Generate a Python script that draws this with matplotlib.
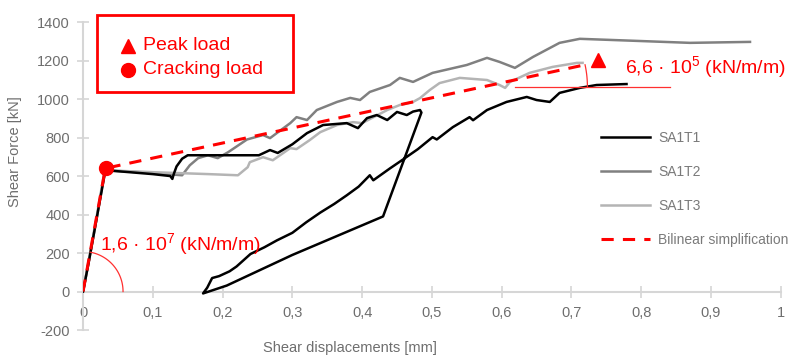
import numpy as np
import matplotlib
matplotlib.use("Agg")
import matplotlib.pyplot as plt
from matplotlib.patches import Rectangle

plt.rcParams["font.family"] = ["Liberation Sans", "DejaVu Sans"]
plt.rcParams["mathtext.fontset"] = "custom"
plt.rcParams["mathtext.rm"] = "Liberation Sans"
plt.rcParams["axes.unicode_minus"] = False

# test curves, shear displacement [mm] vs shear force [kN]
t1_x = [0, 0.008, 0.016, 0.024, 0.032, 0.06, 0.10, 0.125, 0.128, 0.130, 0.134, 0.142, 0.150,
        0.20, 0.252, 0.268, 0.279, 0.30, 0.321, 0.344, 0.378, 0.394, 0.407, 0.421, 0.436,
        0.45, 0.464, 0.473, 0.483, 0.485, 0.430, 0.300, 0.206, 0.172, 0.178, 0.185, 0.195,
        0.21, 0.22, 0.24, 0.26, 0.278, 0.30, 0.32, 0.34, 0.36, 0.378, 0.395, 0.411, 0.416,
        0.44, 0.457, 0.48, 0.501, 0.507, 0.53, 0.554, 0.559, 0.579, 0.607, 0.636, 0.650,
        0.669, 0.683, 0.712, 0.736, 0.779]
t1_y = [0, 150, 310, 470, 630, 622, 610, 600, 585, 610, 650, 690, 708,
        708, 708, 735, 720, 765, 823, 865, 875, 849, 901, 917, 891,
        933, 917, 935, 943, 930, 390, 190, 31, -10, 20, 70, 80,
        105, 130, 195, 230, 266, 305, 360, 410, 455, 500, 545, 604, 578,
        640, 682, 740, 802, 790, 854, 906, 890, 943, 985, 1011, 995,
        985, 1032, 1058, 1073, 1078]

t2_x = [0, 0.01, 0.02, 0.03, 0.033, 0.08, 0.12, 0.142, 0.153, 0.165, 0.179, 0.193, 0.208,
        0.235, 0.258, 0.268, 0.297, 0.306, 0.321, 0.335, 0.364, 0.383, 0.397, 0.411, 0.44,
        0.454, 0.473, 0.501, 0.550, 0.579, 0.597, 0.619, 0.645, 0.683, 0.712, 0.788, 0.870,
        0.956]
t2_y = [0, 190, 390, 600, 630, 620, 610, 604, 656, 693, 708, 693, 724,
        790, 813, 797, 875, 906, 891, 943, 985, 1006, 995, 1037, 1073,
        1110, 1089, 1136, 1177, 1214, 1193, 1162, 1219, 1292, 1313, 1303, 1292,
        1297]

t3_x = [0, 0.01, 0.02, 0.03, 0.033, 0.1, 0.18, 0.222, 0.236, 0.239, 0.258, 0.272, 0.297,
        0.306, 0.325, 0.34, 0.364, 0.387, 0.40, 0.436, 0.454, 0.473, 0.483, 0.497, 0.511,
        0.540, 0.579, 0.597, 0.605, 0.612, 0.640, 0.673, 0.708, 0.716]
t3_y = [0, 200, 400, 610, 630, 620, 610, 604, 646, 672, 698, 682, 745,
        740, 787, 828, 865, 880, 875, 943, 969, 985, 1005, 1047, 1083,
        1110, 1099, 1073, 1058, 1089, 1136, 1167, 1188, 1188]

bil_x = [0, 0.032, 0.722]
bil_y = [0, 640, 1180]
crack = (0.033, 640)
peak = (0.738, 1203)
k1_label = "1,6 · 10$^{7}$ (kN/m/m)"
k2_label = "6,6 · 10$^{5}$ (kN/m/m)"

fig = plt.figure(figsize=(7.91, 3.56), dpi=100)
ax = fig.add_axes([0.105, 0.073, 0.882, 0.865])

ax.plot(t2_x, t2_y, color="#808080", lw=1.8, label="SA1T2", zorder=2)
ax.plot(t3_x, t3_y, color="#b4b4b4", lw=1.8, label="SA1T3", zorder=2)
ax.plot(t1_x, t1_y, color="black", lw=1.8, label="SA1T1", zorder=3)
ax.plot(bil_x, bil_y, color="red", lw=2.2, ls=(0, (4, 3)), label="Bilinear simplification", zorder=4)
ax.plot(*crack, marker="o", color="red", ms=10, zorder=5)
ax.plot(*peak, marker="^", color="red", ms=10, zorder=5)

ax.set_xlim(0, 1)
ax.set_ylim(-200, 1400)
ax.set_xticks(np.arange(0, 1.01, 0.1))
ax.set_xticklabels(["0", "0,1", "0,2", "0,3", "0,4", "0,5", "0,6", "0,7", "0,8", "0,9", "1"])
ax.set_yticks(range(-200, 1401, 200))
for s in ["top", "right"]:
    ax.spines[s].set_visible(False)
ax.spines["bottom"].set_position(("data", 0))
for s in ["left", "bottom"]:
    ax.spines[s].set_color("#d6d6d6")
    ax.spines[s].set_linewidth(1.5)
ax.tick_params(axis="both", direction="inout", length=9, width=1.2, color="#d6d6d6",
               labelcolor="#6e6e6e", labelsize=10.5)
ax.tick_params(axis="x", pad=6)
ax.tick_params(axis="y", pad=5)

ax.set_xlabel("Shear displacements [mm]", fontsize=10.5, color="#6e6e6e")
ax.set_ylabel("Shear Force [kN]", fontsize=10.5, color="#6e6e6e")
ax.xaxis.set_label_coords(0.383, -0.035)
ax.yaxis.set_label_coords(-0.087, 0.58)

# stiffness annotations (arcs drawn as polylines, radius in pixels)
px_x = 698.0          # pixels per mm
px_y = 38.5 / 200.0   # pixels per kN


def arc(xc, yc, r, a0, a1):
    t = np.radians(np.linspace(a0, a1, 40))
    ax.plot(xc + r * np.cos(t) / px_x, yc + r * np.sin(t) / px_y, color="#ff3030", lw=0.9, zorder=4)


ax.text(0.024, 245, k1_label, color="red", fontsize=14, va="center", ha="left")
ang1 = np.degrees(np.arctan(bil_y[1] / bil_x[1] * px_y / px_x))
arc(0, 0, 40, 0, ang1)

slope = (bil_y[2] - bil_y[1]) / (bil_x[2] - bil_x[1])
y_ref = 1063
x_int = bil_x[1] + (y_ref - bil_y[1]) / slope
ax.plot([0.619, 0.841], [y_ref, y_ref], color="#ff3030", lw=0.9, zorder=4)
ang2 = np.degrees(np.arctan(slope * px_y / px_x))
arc(x_int, y_ref, 105, 0, ang2)
ax.text(0.777, 1162, k2_label, color="red", fontsize=14, va="center", ha="left")

leg = ax.legend(handles=[ax.lines[2], ax.lines[0], ax.lines[1], ax.lines[3]],
                loc="upper left", bbox_to_anchor=(0.733, 0.67), frameon=False,
                fontsize=10, labelcolor="#7a7a7a", handlelength=3.5, handletextpad=0.6,
                labelspacing=1.45, borderpad=0)

# marker key box
fig.patches.append(Rectangle((97 / 791, 1 - 92 / 356), 196 / 791, 77 / 356,
                             transform=fig.transFigure, fill=False, edgecolor="red", lw=2))
fig.lines.append(plt.Line2D([128 / 791], [1 - 46 / 356], marker="^", color="red", ms=10,
                            transform=fig.transFigure))
fig.lines.append(plt.Line2D([128 / 791], [1 - 70 / 356], marker="o", color="red", ms=10,
                            transform=fig.transFigure))
fig.text(143 / 791, 1 - 46 / 356, "Peak load", color="red", fontsize=14, va="center")
fig.text(143 / 791, 1 - 70 / 356, "Cracking load", color="red", fontsize=14, va="center")

fig.savefig("out.png", dpi=100)
